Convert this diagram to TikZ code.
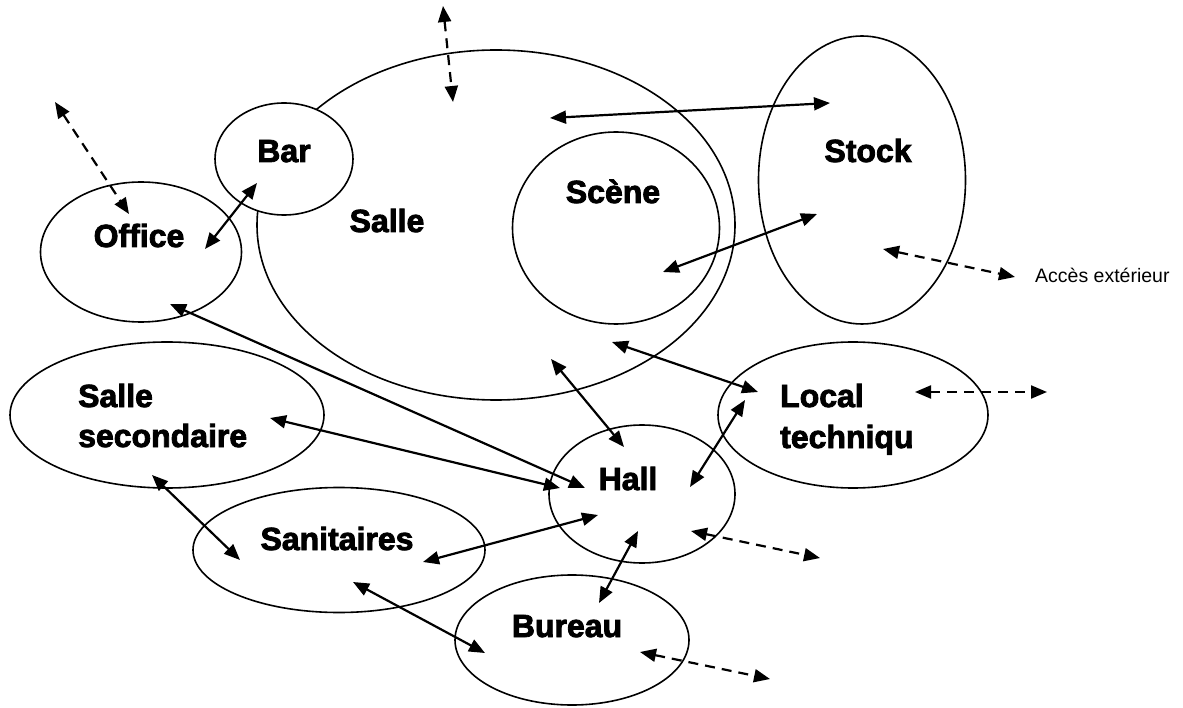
\documentclass[tikz,border=0pt]{standalone}
\usepackage{fontspec}
\usetikzlibrary{shapes.geometric,arrows.meta}
\newfontfamily\lblfont{Liberation Sans Bold}[FakeBold=2.6]
\newfontfamily\smallfont{Liberation Sans}
\tikzset{
  room/.style={ellipse, draw, line width=1.6pt, inner sep=0pt},
  lbl/.style={inner sep=0pt, font=\lblfont\fontsize{32}{36}\selectfont},
  note/.style={inner sep=0pt, font=\smallfont\fontsize{19.5}{23}\selectfont},
  link/.style={line width=2.2pt, {Triangle[length=16pt,width=13pt]}-{Triangle[length=16pt,width=13pt]}},
  extlink/.style={link, dash pattern=on 10pt off 7pt},
}
\begin{document}
\begin{tikzpicture}[x=1pt,y=-1pt]
\useasboundingbox (0,0) rectangle (1183,708);
% rooms
\node[room, minimum width=478pt, minimum height=350pt] (salle) at (496,225) {};
\node[room, fill=white, minimum width=138pt, minimum height=112pt] (bar) at (284,159) {};
\node[room, minimum width=201pt, minimum height=140pt] (office) at (141,252) {};
\node[room, minimum width=207pt, minimum height=192pt] (scene) at (616,228) {};
\node[room, minimum width=207pt, minimum height=288pt] (stock) at (862,180) {};
\node[room, minimum width=270pt, minimum height=146pt] (local) at (853,415) {};
\node[room, minimum width=186pt, minimum height=138pt] (hall) at (642,494) {};
\node[room, minimum width=314pt, minimum height=146pt] (ssec) at (167,415) {};
\node[room, minimum width=292pt, minimum height=125pt] (sanit) at (339,550) {};
\node[room, minimum width=234pt, minimum height=130pt] (bureau) at (572,640) {};
% labels
\node[lbl, anchor=base] (tbar) at (284,162) {Bar};
\node[lbl, anchor=base] (toffice) at (139,247) {Office};
\node[lbl, anchor=base] (tsalle) at (387,232) {Salle};
\node[lbl, anchor=base] (tscene) at (613,203) {Scène};
\node[lbl, anchor=base] (tstock) at (868,162) {Stock};
\node[lbl, anchor=base west] (tlocal1) at (780,407) {Local};
\node[lbl, anchor=base west] (tlocal2) at (780,448) {techniqu};
\node[lbl, anchor=base west] (tssec1) at (78,407) {Salle};
\node[lbl, anchor=base west] (tssec2) at (78,447) {secondaire};
\node[lbl, anchor=base] (thall) at (628,490) {Hall};
\node[lbl, anchor=base] (tsanit) at (337,550) {Sanitaires};
\node[lbl, anchor=base] (tbureau) at (567,637) {Bureau};
\node[note, anchor=base west] (tacces) at (1035,283) {Accès extérieur};
% connector end points
\coordinate (a1) at (550,118); \coordinate (b1) at (830,103);
\coordinate (a2) at (663,272); \coordinate (b2) at (817,214);
\coordinate (a3) at (205,249); \coordinate (b3) at (257,183);
\coordinate (a4) at (55,102);  \coordinate (b4) at (129,214);
\coordinate (a5) at (443,6);   \coordinate (b5) at (453,102);
\coordinate (a6) at (883,249); \coordinate (b6) at (1015,277);
\coordinate (a7) at (915,392); \coordinate (b7) at (1047,392);
\coordinate (a8) at (170,304); \coordinate (b8) at (585,488);
\coordinate (a9) at (270,418); \coordinate (b9) at (560,488);
\coordinate (a10) at (551,359); \coordinate (b10) at (624,447);
\coordinate (a11) at (612,342); \coordinate (b11) at (758,392);
\coordinate (a12) at (690,487); \coordinate (b12) at (745,400);
\coordinate (a13) at (691,531); \coordinate (b13) at (820,558);
\coordinate (a14) at (638,531); \coordinate (b14) at (599,603);
\coordinate (a15) at (640,652); \coordinate (b15) at (770,679);
\coordinate (a16) at (423,562); \coordinate (b16) at (598,515);
\coordinate (a17) at (152,475); \coordinate (b17) at (240,560);
\coordinate (a18) at (353,582); \coordinate (b18) at (485,653);
% connectors
\draw[link] (a1) -- (b1);
\draw[link] (a2) -- (b2);
\draw[link] (a3) -- (b3);
\draw[extlink] (a4) -- (b4);
\draw[extlink] (a5) -- (b5);
\draw[extlink] (a6) -- (b6);
\draw[extlink] (a7) -- (b7);
\draw[link] (a8) -- (b8);
\draw[link] (a9) -- (b9);
\draw[link] (a10) -- (b10);
\draw[link] (a11) -- (b11);
\draw[link] (a12) -- (b12);
\draw[extlink] (a13) -- (b13);
\draw[link] (a14) -- (b14);
\draw[extlink] (a15) -- (b15);
\draw[link] (a16) -- (b16);
\draw[link] (a17) -- (b17);
\draw[link] (a18) -- (b18);
\end{tikzpicture}
\end{document}
